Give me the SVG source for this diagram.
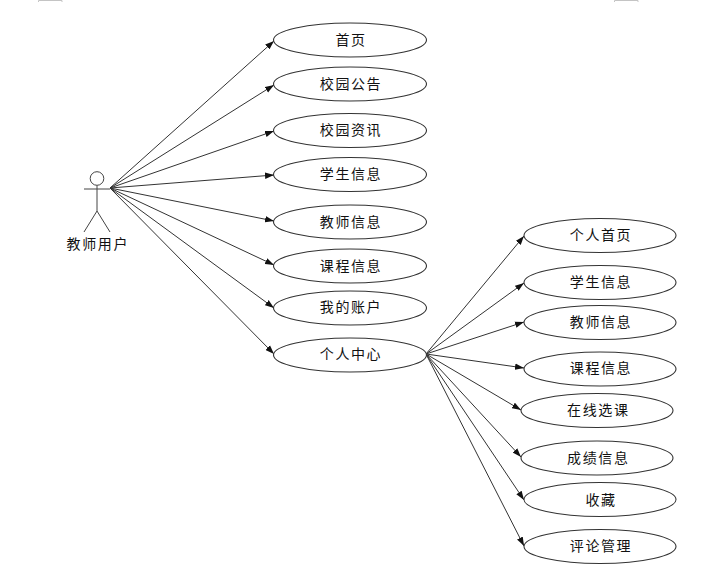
<svg xmlns="http://www.w3.org/2000/svg" width="723" height="581" viewBox="0 0 723 581">
<style>
.n ellipse{fill:#fff;stroke:#333;stroke-width:1.1}
.n text,#actor text{font-family:"Noto Sans CJK SC","Liberation Sans",sans-serif;font-size:14px;fill:#111;text-anchor:middle;letter-spacing:1.6px}
#connectors line{stroke:#333;stroke-width:1;marker-end:url(#a)}
#actor circle,#actor line{fill:#fff;stroke:#444;stroke-width:1}
.m{stroke:#c4c4c4;stroke-width:1;fill:none}
</style>
<defs><marker id="a" markerUnits="userSpaceOnUse" markerWidth="10" markerHeight="7" refX="9" refY="3.500" orient="auto"><path d="M0 0.300L9 3.500L0 6.700Z" fill="#111"/></marker></defs>
<rect width="723" height="581" fill="#fff"/>
<path class="m" d="M38.500 2V0.500H62V2M614.500 2V0.500H638V2"/>
<g id="connectors">
<line x1="110" y1="188" x2="274" y2="41"/>
<line x1="110" y1="188" x2="274" y2="85"/>
<line x1="110" y1="188" x2="274" y2="131"/>
<line x1="110" y1="188" x2="274" y2="175"/>
<line x1="110" y1="188" x2="274" y2="221"/>
<line x1="110" y1="188" x2="274" y2="265"/>
<line x1="110" y1="188" x2="274" y2="308"/>
<line x1="110" y1="188" x2="274" y2="354"/>
<line x1="426" y1="354" x2="524" y2="236"/>
<line x1="426" y1="354" x2="524" y2="283"/>
<line x1="426" y1="354" x2="524" y2="322"/>
<line x1="426" y1="354" x2="524" y2="368"/>
<line x1="426" y1="354" x2="521" y2="410"/>
<line x1="426" y1="354" x2="521" y2="457"/>
<line x1="426" y1="354" x2="524" y2="500"/>
<line x1="426" y1="354" x2="524" y2="546"/>
</g>
<g id="actor">
<circle cx="97" cy="178.500" r="6.800"/>
<line x1="97" y1="185.500" x2="97" y2="211"/>
<line x1="84" y1="189" x2="110" y2="189"/>
<line x1="97" y1="211" x2="84" y2="232"/>
<line x1="97" y1="211" x2="110" y2="232"/>
<text x="97.800" y="249">教师用户</text>
</g>
<g id="n1" class="n"><ellipse cx="350" cy="40" rx="76.500" ry="17"/><text x="351" y="44.500">首页</text></g>
<g id="n2" class="n"><ellipse cx="350" cy="84" rx="76.500" ry="17"/><text x="351" y="88.500">校园公告</text></g>
<g id="n3" class="n"><ellipse cx="350" cy="130.500" rx="76.500" ry="17"/><text x="351" y="135">校园资讯</text></g>
<g id="n4" class="n"><ellipse cx="350" cy="174.500" rx="76.500" ry="17"/><text x="351" y="179">学生信息</text></g>
<g id="n5" class="n"><ellipse cx="350" cy="222" rx="76.500" ry="17"/><text x="351" y="227">教师信息</text></g>
<g id="n6" class="n"><ellipse cx="350" cy="266" rx="76.500" ry="17"/><text x="351" y="271">课程信息</text></g>
<g id="n7" class="n"><ellipse cx="350" cy="308" rx="76.500" ry="17"/><text x="351" y="312">我的账户</text></g>
<g id="n8" class="n"><ellipse cx="350" cy="355" rx="76.500" ry="17"/><text x="351" y="359">个人中心</text></g>
<g id="n9" class="n"><ellipse cx="600" cy="235.500" rx="76" ry="17"/><text x="601" y="240">个人首页</text></g>
<g id="n10" class="n"><ellipse cx="600" cy="282.500" rx="76" ry="17"/><text x="601" y="287">学生信息</text></g>
<g id="n11" class="n"><ellipse cx="600" cy="322.500" rx="76" ry="17"/><text x="601" y="327">教师信息</text></g>
<g id="n12" class="n"><ellipse cx="600" cy="369" rx="76" ry="17"/><text x="601" y="373">课程信息</text></g>
<g id="n13" class="n"><ellipse cx="597" cy="410.500" rx="76" ry="17"/><text x="598.300" y="415">在线选课</text></g>
<g id="n14" class="n"><ellipse cx="597" cy="458" rx="76" ry="17"/><text x="598.300" y="463">成绩信息</text></g>
<g id="n15" class="n"><ellipse cx="600" cy="499.500" rx="76" ry="17"/><text x="601" y="504.500">收藏</text></g>
<g id="n16" class="n"><ellipse cx="600" cy="546.500" rx="76" ry="17"/><text x="601" y="551">评论管理</text></g>
</svg>
